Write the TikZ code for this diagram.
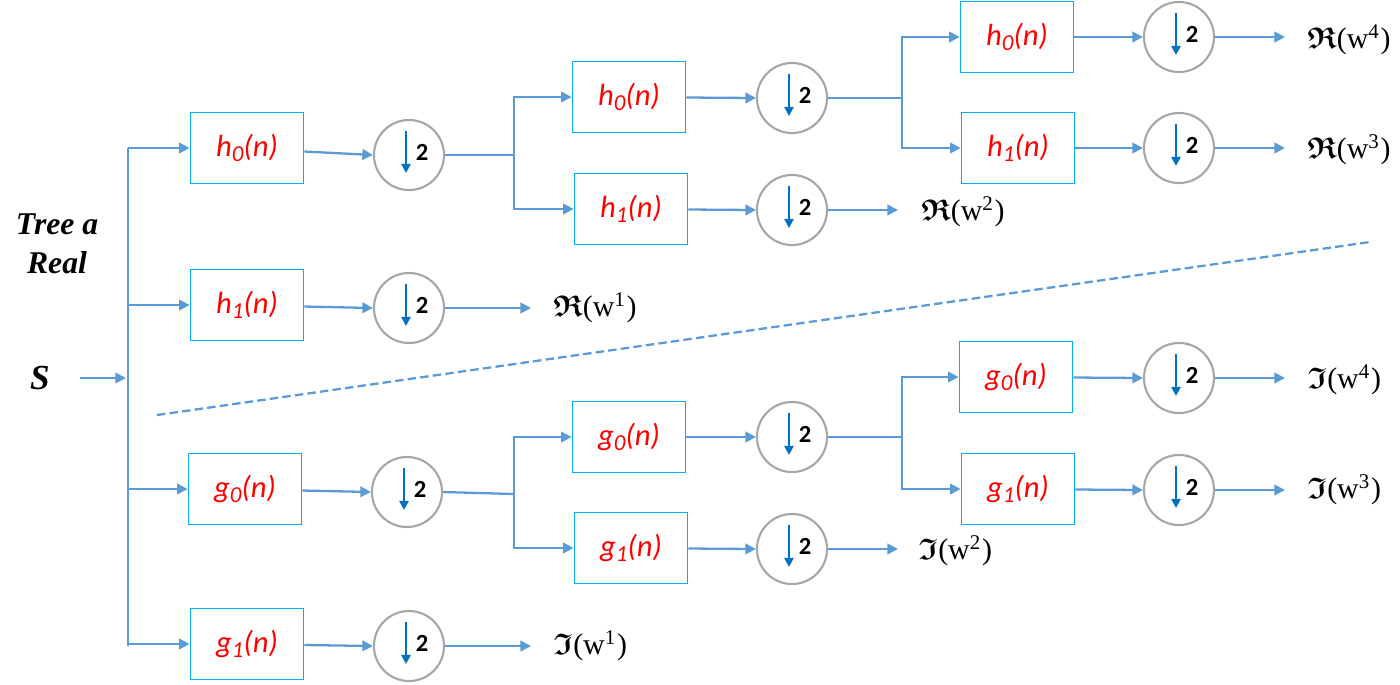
\documentclass[tikz,border=0pt]{standalone}
\usepackage{amsfonts}
\usepackage{bm}
\usepackage{fontspec}
\setmainfont{Liberation Serif}
\newfontfamily\calib{Carlito}
\usetikzlibrary{arrows.meta,calc}
\definecolor{lineblue}{HTML}{5B9BD5}
\definecolor{boxcyan}{HTML}{00B0F0}
\definecolor{circgray}{HTML}{A6A6A6}
\definecolor{darrblue}{HTML}{0070C0}
\definecolor{fred}{HTML}{FF0000}
\newcommand{\lsub}[1]{\raisebox{-0.35ex}{\fontsize{6.5}{6.5}\selectfont #1}}
\newcommand{\filt}[2]{{\calib\itshape #1\lsub{#2}(n)}}
\newcommand{\outR}[1]{$\bm{\mathfrak{R}}$(w\textsuperscript{#1})}
\newcommand{\outI}[1]{$\bm{\mathfrak{I}}$(w\textsuperscript{#1})}
\begin{document}
\begin{tikzpicture}[x=0.01cm,y=-0.01cm,
  arr/.style={draw=lineblue,line width=0.65pt,-{Triangle[length=3pt,width=3pt]}},
  ln/.style={draw=lineblue,line width=0.65pt},
  filtbox/.style={draw=boxcyan,line width=0.5pt,minimum width=1.13cm,minimum height=0.71cm,inner sep=0pt,text=fred,font=\fontsize{8.7}{10}\selectfont},
  dsc/.style={draw=circgray,circle,line width=0.6pt,minimum size=0.70cm,inner sep=0pt},
  dnarr/.style={draw=darrblue,line width=0.7pt,-{Triangle[length=2.6pt,width=2.6pt]}},
  two/.style={font=\calib\fontsize{7}{8}\selectfont\bfseries,text=black,inner sep=0pt},
  outlbl/.style={anchor=west,inner sep=0pt,font=\fontsize{8.5}{10}\selectfont},
  ttl/.style={font=\bfseries\itshape\fontsize{9}{11}\selectfont,inner sep=0pt}]
\useasboundingbox (0,0) rectangle (1400,684);

% labels on the left
\node[ttl,align=center] (title) at (57,244) {Tree a\\Real};
\node[ttl,font=\bfseries\itshape\fontsize{10}{12}\selectfont] (S) at (40,378) {S};

% level 1 boxes
\node[filtbox] (bh0) at (247,148) {\filt{h}{0}};
\node[filtbox] (bh1) at (247,305) {\filt{h}{1}};
\node[filtbox] (bg0) at (245,489) {\filt{g}{0}};
\node[filtbox] (bg1) at (247,644) {\filt{g}{1}};
% level 1 circles
\node[dsc] (ch0) at (409,155) {};
\node[dsc] (ch1) at (409,308) {};
\node[dsc] (cg0) at (407,492) {};
\node[dsc] (cg1) at (409,646) {};

% level 2 boxes
\node[filtbox] (bh00) at (629,97) {\filt{h}{0}};
\node[filtbox] (bh01) at (631,209) {\filt{h}{1}};
\node[filtbox] (bg00) at (629,437) {\filt{g}{0}};
\node[filtbox] (bg01) at (631,548) {\filt{g}{1}};
\node[dsc] (ch00) at (792,98) {};
\node[dsc] (ch01) at (792,210) {};
\node[dsc] (cg00) at (792,437) {};
\node[dsc] (cg01) at (792,549) {};

% level 3 boxes
\node[filtbox] (bh000) at (1017,37) {\filt{h}{0}};
\node[filtbox] (bh001) at (1018,148) {\filt{h}{1}};
\node[filtbox] (bg000) at (1016,377) {\filt{g}{0}};
\node[filtbox] (bg001) at (1018,489) {\filt{g}{1}};
\node[dsc] (ch000) at (1179,37) {};
\node[dsc] (ch001) at (1179,148) {};
\node[dsc] (cg000) at (1179,378) {};
\node[dsc] (cg001) at (1179,490) {};

% down-sampler contents
\foreach \c in {ch0,ch1,cg0,cg1,ch00,ch01,cg00,cg01,ch000,ch001,cg000,cg001}{
  \draw[dnarr] ($(\c.center)+(-3,-24)$) -- ($(\c.center)+(-3,18)$);
  \node[two] (\c-two) at ($(\c.center)+(13,-3)$) {2};
}

% outputs
\node[outlbl] (oR1) at (553,308) {\outR{1}};
\node[outlbl] (oI1) at (553,646) {\outI{1}};
\node[outlbl] (oR2) at (921,212) {\outR{2}};
\node[outlbl] (oI2) at (918,551) {\outI{2}};
\node[outlbl] (oR4) at (1307,40) {\outR{4}};
\node[outlbl] (oR3) at (1307,150) {\outR{3}};
\node[outlbl] (oI4) at (1307,380) {\outI{4}};
\node[outlbl] (oI3) at (1307,490) {\outI{3}};

% coordinates
\coordinate (sin) at (80,378);
\coordinate (ttop) at (128,148);
\coordinate (tbot) at (128,646);
\coordinate (tS) at (128,378);
\coordinate (t1) at (128,305);
\coordinate (t2) at (128,489);
\coordinate (j1) at (514,155);
\coordinate (j2) at (902,98);
\coordinate (j3) at (514,494);
\coordinate (j4) at (902,437);
\coordinate (eR1) at (531,308);
\coordinate (eI1) at (531,646);
\coordinate (eR2) at (898,210);
\coordinate (eI2) at (898,549);
\coordinate (eR4) at (1285,37);
\coordinate (eR3) at (1285,148);
\coordinate (eI4) at (1285,378);
\coordinate (eI3) at (1285,490);
\coordinate (d1) at (157,415);
\coordinate (d2) at (1370,242);

% trunk
\draw[arr] (sin) -- ($(tS)+(-2,0)$);
\draw[ln] (ttop) -- (tbot);
\draw[arr] (ttop) -- (bh0.west);
\draw[arr] (t1) -- (bh1.west);
\draw[arr] (t2) -- (bg0.west);
\draw[arr] (tbot) |- (bg1.west);

% box to down-sampler
\foreach \b/\c in {bh0/ch0,bh1/ch1,bg0/cg0,bg1/cg1,bh00/ch00,bh01/ch01,bg00/cg00,bg01/cg01,bh000/ch000,bh001/ch001,bg000/cg000,bg001/cg001}{
  \draw[arr] ($(\b.east)!0.5!(\b.east |- \c.west)$) -- (\c.west);
}
\draw[ln] (ch0.east) -- (j1);
\draw[arr] (j1) |- (bh00.west);
\draw[arr] (j1) |- (bh01.west);
\draw[ln] (cg0.east) -- (j3);
\draw[arr] (j3) |- (bg00.west);
\draw[arr] (j3) |- (bg01.west);
\draw[ln] (ch00.east) -- (j2);
\draw[arr] (j2) |- (bh000.west);
\draw[arr] (j2) |- (bh001.west);
\draw[ln] (cg00.east) -- (j4);
\draw[arr] (j4) |- (bg000.west);
\draw[arr] (j4) |- (bg001.west);

% output arrows
\draw[arr] (ch1.east) -- (eR1);
\draw[arr] (cg1.east) -- (eI1);
\draw[arr] (ch01.east) -- (eR2);
\draw[arr] (cg01.east) -- (eI2);
\draw[arr] (ch000.east) -- (eR4);
\draw[arr] (ch001.east) -- (eR3);
\draw[arr] (cg000.east) -- (eI4);
\draw[arr] (cg001.east) -- (eI3);

% separator
\draw[lineblue,line width=0.65pt,dash pattern=on 2.4pt off 1.2pt] (d1) -- (d2);
\end{tikzpicture}
\end{document}
